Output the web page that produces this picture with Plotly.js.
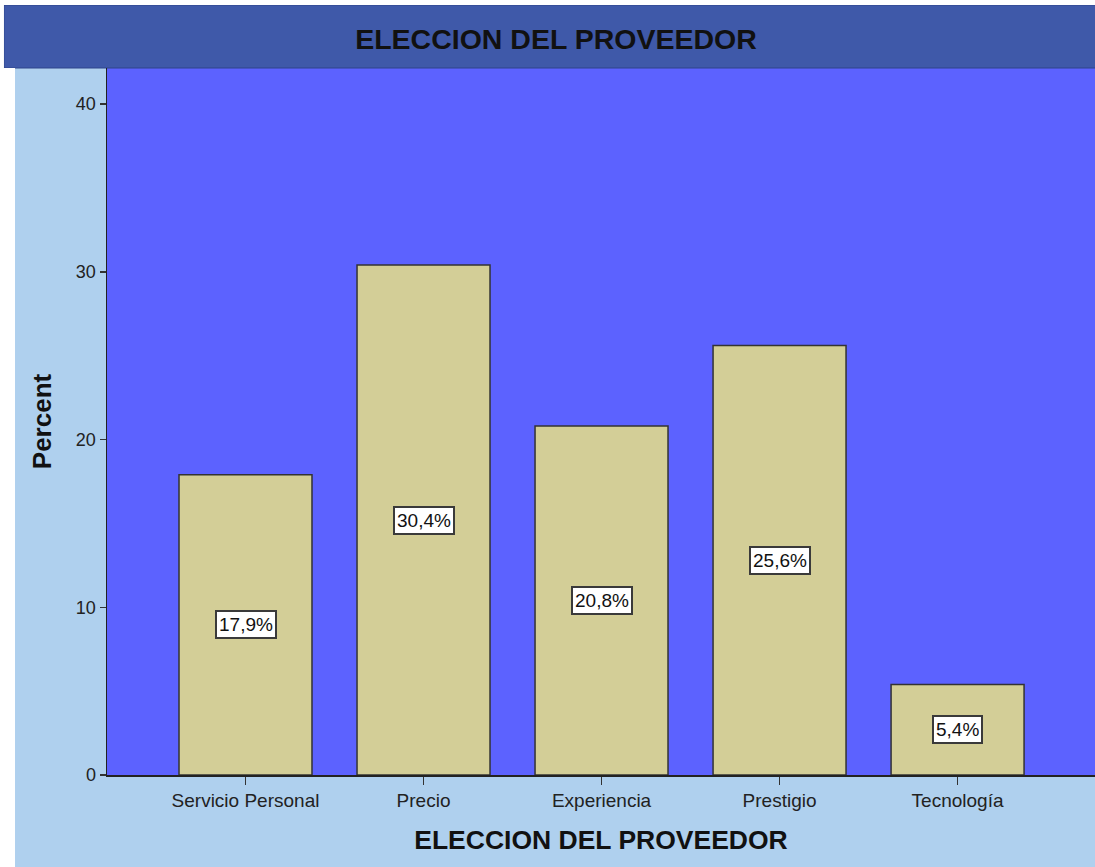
<!DOCTYPE html>
<html>
<head>
<meta charset="utf-8">
<script src="https://cdn.plot.ly/plotly-3.0.1.min.js"></script>
<style>
  body { margin: 0; background: #fff; }
  #chart { width: 1095px; height: 867px; }
</style>
</head>
<body>
<div id="chart"></div>
<script>
// Datos del gráfico
const categorias = ['Servicio Personal', 'Precio', 'Experiencia', 'Prestigio', 'Tecnología'];
const porcentajes = [17.9, 30.4, 20.8, 25.6, 5.4];
const etiquetas = ['17,9%', '30,4%', '20,8%', '25,6%', '5,4%'];

const fuente = 'Liberation Sans, Arial, sans-serif';

// etiquetas en el centro de cada barra
const anotaciones = categorias.map((c, i) => ({
    x: c,
    y: porcentajes[i] / 2,
    xref: 'x',
    yref: 'y',
    text: etiquetas[i],
    showarrow: false,
    bgcolor: '#ffffff',
    bordercolor: '#3a3a3a',
    borderwidth: 2,
    borderpad: 2,
    font: {family: fuente, size: 19, color: '#111111'}
}));

Plotly.newPlot('chart', [{
    type: 'bar',
    x: categorias,
    y: porcentajes,
    width: 0.747,
    marker: {color: '#D3CE97', line: {color: '#333333', width: 1.5}},
    hoverinfo: 'skip'
}], {
    width: 1095,
    height: 867,
    margin: {l: 107, r: 0, t: 68, b: 92, pad: 0},
    paper_bgcolor: '#AFD0EE',
    plot_bgcolor: '#5C62FF',
    showlegend: false,
    title: {
        text: '<b>ELECCION DEL PROVEEDOR</b>',
        font: {family: fuente, size: 28.5, color: '#111111'},
        x: 556 / 1095, xref: 'container', xanchor: 'center',
        y: 1 - 39.5 / 867, yref: 'container', yanchor: 'middle'
    },
    xaxis: {
        range: [-0.778, 4.772],
        showgrid: false,
        zeroline: false,
        showline: true,
        linecolor: '#222222',
        linewidth: 1.5,
        ticks: 'outside',
        ticklen: 8,
        tickwidth: 1.5,
        tickcolor: '#333333',
        tickfont: {family: fuente, size: 19, color: '#222222'},
        title: {
            text: '<b>ELECCION DEL PROVEEDOR</b>',
            font: {family: fuente, size: 26.5, color: '#111111'},
            standoff: 20
        }
    },
    yaxis: {
        range: [0, 42.15],
        tickvals: [0, 10, 20, 30, 40],
        showgrid: false,
        zeroline: false,
        showline: true,
        linecolor: '#222222',
        linewidth: 1.5,
        ticks: 'outside',
        ticklen: 6,
        tickwidth: 1.5,
        tickcolor: '#333333',
        tickfont: {family: fuente, size: 18, color: '#222222'},
        title: {
            text: '<b>Percent</b>',
            font: {family: fuente, size: 26, color: '#111111'},
            standoff: 17
        }
    },
    shapes: [
        // franja blanca a la izquierda
        {type: 'rect', xref: 'paper', yref: 'paper', x0: -0.11, x1: -0.0931, y0: -0.14, y1: 1.0,
         fillcolor: '#ffffff', line: {width: 0}, layer: 'above'},
        {type: 'rect', xref: 'paper', yref: 'paper', x0: -0.11, x1: 1.01, y0: 1.0891, y1: 1.1,
         fillcolor: '#ffffff', line: {width: 0}, layer: 'above'},
        {type: 'rect', xref: 'paper', yref: 'paper', x0: -0.11, x1: -0.1043, y0: 1.0, y1: 1.1,
         fillcolor: '#ffffff', line: {width: 0}, layer: 'above'},
        // barra del título
        {type: 'rect', xref: 'paper', yref: 'paper', x0: -0.1043, x1: 1.01, y0: 1.0, y1: 1.0891,
         fillcolor: '#3F59A9', line: {color: '#2E448A', width: 1}, layer: 'below'}
    ],
    annotations: anotaciones
}, {displayModeBar: false, staticPlot: true});
</script>
</body>
</html>
